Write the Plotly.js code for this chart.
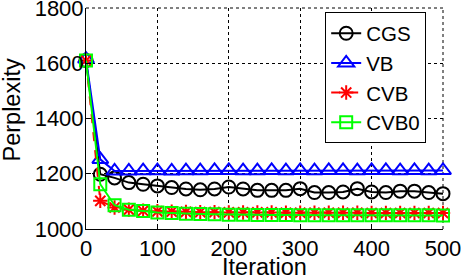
<!DOCTYPE html>
<html>
<head>
<meta charset="utf-8">
<script src="https://cdn.plot.ly/plotly-3.0.1.min.js"></script>
<style>
html,body{margin:0;padding:0;background:#fff;}
#chart{width:462px;height:278px;}
</style>
</head>
<body>
<div id="chart"></div>
<script>
const iterations = [0, 20, 40, 60, 80, 100, 120, 140, 160, 180, 200, 220, 240, 260, 280, 300, 320, 340, 360, 380, 400, 420, 440, 460, 480, 500];
const cgs  = [1610, 1198, 1185, 1168, 1162, 1156, 1150, 1145, 1142, 1145, 1152, 1145, 1140, 1140, 1140, 1146, 1132, 1132, 1134, 1146, 1134, 1132, 1137, 1137, 1132, 1128];
const vb   = [1615, 1252, 1210, 1210, 1211, 1211, 1210, 1211, 1211, 1212, 1212, 1211, 1211, 1212, 1211, 1212, 1211, 1212, 1212, 1211, 1212, 1212, 1211, 1212, 1211, 1212];
const cvb  = [1610, 1102, 1078, 1070, 1066, 1064, 1063, 1062, 1061, 1061, 1060, 1060, 1060, 1060, 1059, 1059, 1059, 1059, 1059, 1059, 1058, 1058, 1058, 1058, 1058, 1058];
const cvb0 = [1610, 1162, 1086, 1070, 1065, 1060, 1058, 1055, 1054, 1053, 1052, 1052, 1051, 1051, 1051, 1050, 1050, 1050, 1050, 1050, 1050, 1050, 1050, 1050, 1050, 1049];
const seriesNames = ['CGS', 'VB', 'CVB', 'CVB0'];
const xTicks = [0, 100, 200, 300, 400, 500];
const yTicks = [1000, 1200, 1400, 1600, 1800];
const xTitle = 'Iteration';
const yTitle = 'Perplexity';

const FONT = 'Liberation Sans, Arial, Helvetica, sans-serif';
const TICK_FS = 22;
const TITLE_FS = 23.5;
const LEG_FS = 20.5;

function tr(name, y, color, symbol, size, dash) {
  return {
    type: 'scatter', mode: 'lines+markers', name: name,
    x: iterations, y: y, cliponaxis: false,
    line: {color: color, width: 2, dash: dash},
    marker: {symbol: symbol, size: size, color: color, line: {color: color, width: 2}}
  };
}

const data = [
  tr(seriesNames[0], cgs, '#000000', 'circle-open', 13, 'solid'),
  tr(seriesNames[1], vb, '#0000ff', 'triangle-up-open', 14, 'solid'),
  tr(seriesNames[2], cvb, '#ff0000', 'asterisk-open', 12, 'dash'),
  tr(seriesNames[3], cvb0, '#00ff00', 'square-open', 12, 'solid')
];

const axisCommon = {
  ticks: 'inside', ticklen: 5, tickcolor: '#000', tickwidth: 1,
  showline: true, linecolor: '#000', linewidth: 1, mirror: false,
  showgrid: true, gridcolor: '#000', gridwidth: 1, griddash: 'dot',
  zeroline: false, ticklabeloverflow: 'allow',
  tickfont: {family: FONT, size: TICK_FS, color: '#000'}
};

const layout = {
  width: 462, height: 278,
  margin: {l: 86, r: 19, t: 8, b: 49, pad: 0},
  paper_bgcolor: '#fff', plot_bgcolor: '#fff',
  font: {family: FONT, size: TICK_FS, color: '#000'},
  showlegend: true,
  legend: {
    x: 0.67, y: 0.98, xanchor: 'left', yanchor: 'top',
    bgcolor: '#fff', bordercolor: '#000', borderwidth: 1,
    font: {family: FONT, size: LEG_FS, color: '#000'},
    tracegroupgap: 0
  },
  shapes: [
    {type: 'line', xref: 'paper', yref: 'paper', x0: 0, x1: 1, y0: 1, y1: 1, layer: 'below',
     line: {color: '#000', width: 1, dash: 'dot'}},
    {type: 'line', xref: 'paper', yref: 'paper', x0: 1, x1: 1, y0: 0, y1: 1, layer: 'below',
     line: {color: '#000', width: 1, dash: 'dot'}}
  ],
  annotations: [
    {text: xTitle, xref: 'paper', yref: 'paper', x: 0.5, y: 0, xanchor: 'center', yanchor: 'middle',
     yshift: -38, showarrow: false, font: {family: FONT, size: TITLE_FS, color: '#000'}},
    {text: yTitle, xref: 'paper', yref: 'paper', x: 0, y: 0.5, xanchor: 'center', yanchor: 'middle',
     xshift: -75, yshift: 8, textangle: -90, showarrow: false, font: {family: FONT, size: TITLE_FS, color: '#000'}}
  ],
  xaxis: Object.assign({}, axisCommon, {
    range: [0, 500], tickmode: 'array', tickvals: xTicks, ticktext: xTicks.map(String)
  }),
  yaxis: Object.assign({}, axisCommon, {
    range: [1000, 1800], tickmode: 'array', tickvals: yTicks, ticktext: yTicks.map(String),
    ticklabelstandoff: -3
  })
};

Plotly.newPlot('chart', data, layout, {staticPlot: true, displayModeBar: false});
</script>
</body>
</html>
